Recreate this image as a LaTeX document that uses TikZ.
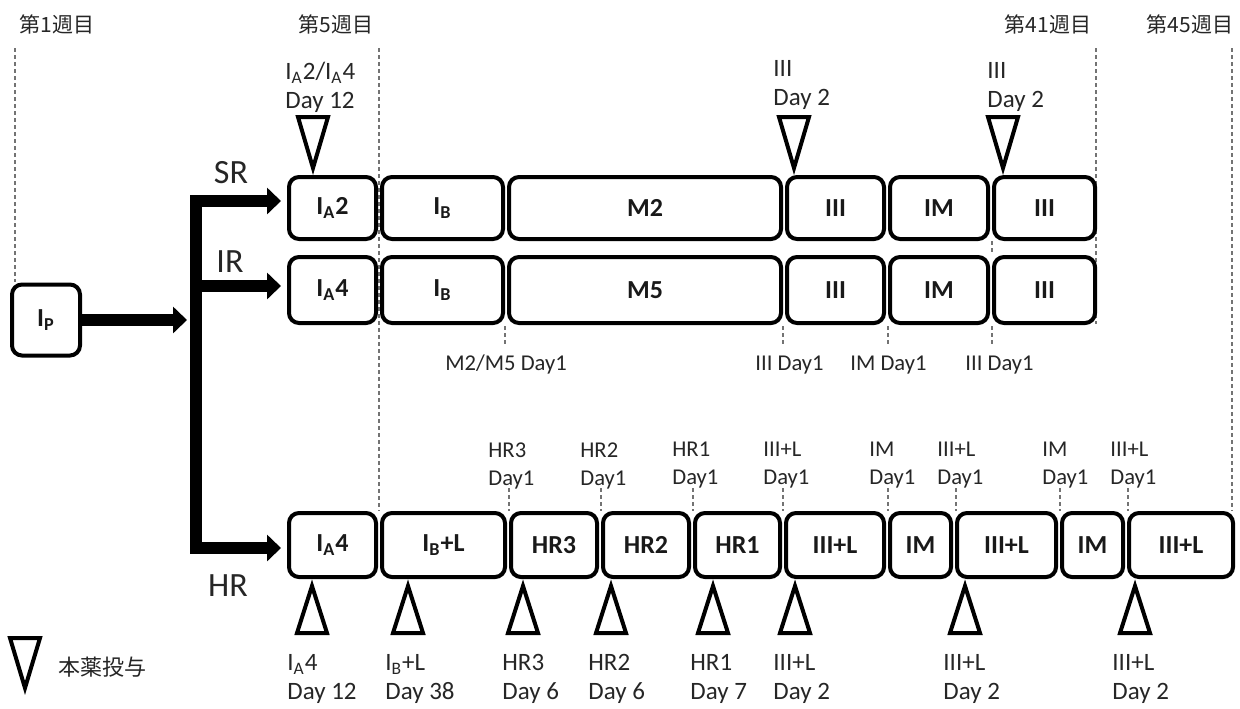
\documentclass[tikz,border=0pt]{standalone}
\usepackage{fontspec}
\setmainfont{Carlito}
\newfontfamily\jpfont{Noto Sans CJK JP}
\usetikzlibrary{arrows.meta}

\tikzset{
  phase/.style={draw, line width=2pt, rounded corners=5pt, inner sep=0pt,
    font=\fontsize{13}{15}\selectfont\bfseries, text=black!90},
  dose/.style={draw, line width=2pt, line join=miter},
  guide/.style={black!55, line width=0.6pt, dash pattern=on 2pt off 1.5pt},
  fat/.style={line width=6pt, line join=miter, -{Triangle[length=7pt,width=13pt]}},
  daynote/.style={font=\fontsize{12.5}{14.5}\selectfont, text=black!85,
    align=left, inner sep=0pt, anchor=north west},
  startnote/.style={font=\fontsize{11.3}{14}\selectfont, text=black!85,
    align=left, inner sep=0pt},
  arm/.style={font=\fontsize{17}{20}\selectfont, text=black!85},
  week/.style={font=\jpfont\fontsize{10.5}{12}\selectfont, text=black!85},
}

\begin{document}
\begin{tikzpicture}[x=0.5pt,y=-0.5pt]
  \useasboundingbox (0,0) rectangle (1240,708);

  % week marks
  \node[week] (w1) at (57,24) {第1週目};
  \node[week] (w5) at (336,24) {第5週目};
  \node[week] (w41) at (1048,24) {第41週目};
  \node[week] (w45) at (1190,24) {第45週目};
  \draw[guide] (15,48) -- (15,282);
  \draw[guide] (379,48) -- (379,511);
  \draw[guide] (1096,48) -- (1096,324);
  \draw[guide] (1232,48) -- (1232,511);

  % SR row
  \foreach \nm/\xa/\xb/\txt in {s1/287/378/{I\textsubscript{A}2}, s2/380/505/{I\textsubscript{B}},
      s3/507/783/M2, s4/785/886/III, s5/888/990/IM, s6/992/1097/III}
    \node[phase, minimum width={(\xb-\xa-4)*0.5pt}, minimum height=31pt] (\nm) at ({(\xa+\xb)/2},208) {\txt};

  % IR row
  \foreach \nm/\xa/\xb/\txt in {i1/287/378/{I\textsubscript{A}4}, i2/380/505/{I\textsubscript{B}},
      i3/507/783/M5, i4/785/886/III, i5/888/990/IM, i6/992/1097/III}
    \node[phase, minimum width={(\xb-\xa-4)*0.5pt}, minimum height=33pt] (\nm) at ({(\xa+\xb)/2},290) {\txt};

  % HR row
  \foreach \nm/\xa/\xb/\txt in {h1/287/378/{I\textsubscript{A}4}, h2/380/507/{I\textsubscript{B}+L},
      h3/509/599/HR3, h4/601/691/HR2, h5/693/782/HR1, h6/784/886/III+L,
      h7/888/953/IM, h8/955/1058/III+L, h9/1060/1125/IM, h10/1127/1235/III+L}
    \node[phase, minimum width={(\xb-\xa-4)*0.5pt}, minimum height=32pt] (\nm) at ({(\xa+\xb)/2},545) {\txt};

  % induction and branching
  \node[phase, minimum width=34pt, minimum height=35.5pt] (ip) at (46,320) {I\textsubscript{P}};
  \coordinate (fork) at (196,320);
  \draw[fat, shorten >=4.5pt] (ip.east) -- (fork);
  \draw[fat] (fork) |- ([xshift=-3pt,yshift=3.5pt]s1.west);
  \draw[fat] (fork) |- ([xshift=-3pt,yshift=2pt]i1.west);
  \draw[fat] (fork) |- ([xshift=-3pt,yshift=-1.5pt]h1.west);
  \node[arm] (sr) at (231,173) {SR};
  \node[arm] (ir) at (230,262) {IR};
  \node[arm] (hr) at (228,586) {HR};

  % dosing marks above SR
  \foreach \x in {313,794,1003}
    \draw[dose] (\x-15,117) -- (\x+15,117) -- (\x,168) -- cycle;
  \node[daynote] (ta) at (285,62) {I\textsubscript{A}2/I\textsubscript{A}4\\Day 12};
  \node[daynote] (tb) at (773,60) {III\\Day 2};
  \node[daynote] (tc) at (987,62) {III\\Day 2};

  % day 1 marks of SR/IR
  \foreach \x in {505,783,888,992}
    \draw[guide] (\x,326) -- (\x,346);
  \draw[guide] (992,241) -- (992,255);
  \foreach \nm/\x/\txt in {m1/445/{M2/M5 Day1}, m2/755/{III Day1}, m3/850/{IM Day1}, m4/965/{III Day1}}
    \node[startnote, anchor=base west] (\nm) at (\x,370) {\txt};

  % day 1 marks of HR
  \foreach \x in {509,601,693,783,888,956,1060,1128}
    \draw[guide] (\x,488) -- (\x,511);
  \foreach \nm/\x/\txt in {n1/488/HR3, n2/580/HR2, n3/672/HR1, n4/763/III+L,
      n5/869/IM, n6/937/III+L, n7/1042/IM, n8/1110/III+L}
    \node[startnote, anchor=north west] (\nm) at (\x,442) {\txt\\Day1};

  % dosing marks below HR
  \foreach \x in {312,408,523,611,713,795,965,1135}
    \draw[dose] (\x,586) -- (\x+15,633) -- (\x-15,633) -- cycle;
  \foreach \nm/\x/\txt/\d in {b1/287/{I\textsubscript{A}4}/12, b2/385/{I\textsubscript{B}+L}/38,
      b3/502/HR3/6, b4/588/HR2/6, b5/690/HR1/7, b6/773/III+L/2, b7/943/III+L/2, b8/1112/III+L/2}
    \node[daynote] (\nm) at (\x,654) {\txt\\Day \d};

  % legend
  \draw[dose] (10,638) -- (40,638) -- (25,688) -- cycle;
  \node[week, anchor=west, inner sep=0pt, font=\jpfont\fontsize{11}{13}\selectfont] (lg) at (58,667) {本薬投与};
\end{tikzpicture}
\end{document}
